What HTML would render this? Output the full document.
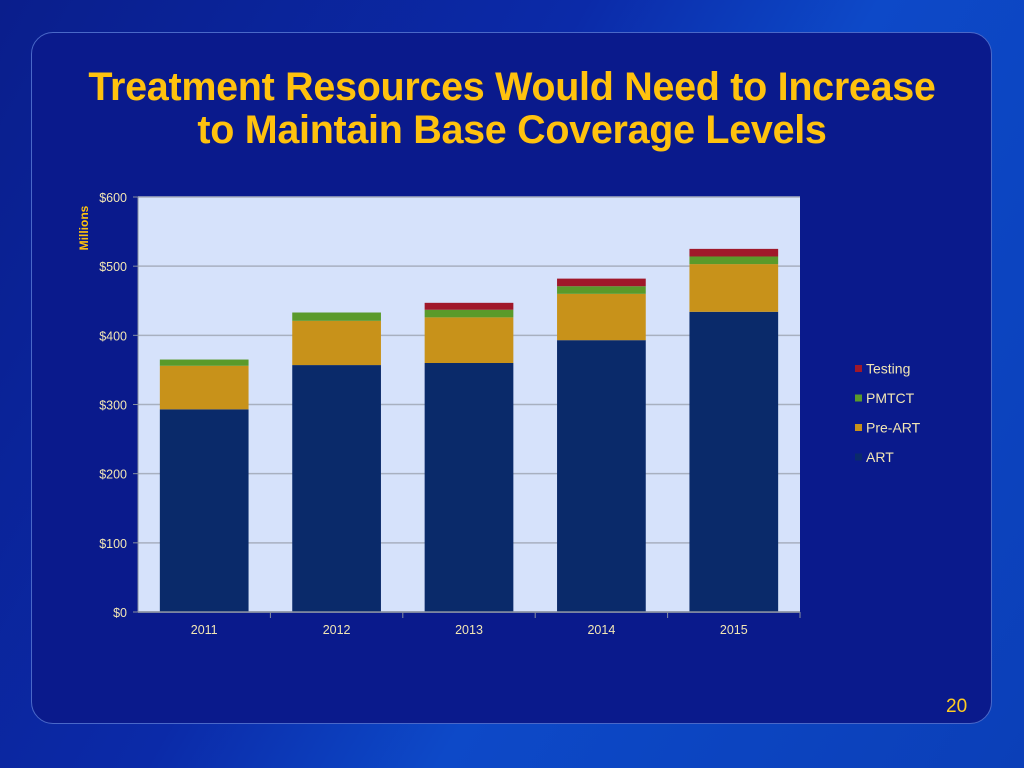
<!DOCTYPE html>
<html><head><meta charset="utf-8"><style>
body{margin:0;width:1024px;height:768px;overflow:hidden;background:linear-gradient(120deg,#0a1e8c 0%,#0b2aa8 40%,#0d49c8 60%,#0b3fb8 100%);font-family:"Liberation Sans",sans-serif;position:relative}
#panel{position:absolute;left:31px;top:32px;width:961px;height:692px;border:1.5px solid #4a68c8;border-radius:22px;background:#0a1a8c;box-sizing:border-box}
#title{position:absolute;left:0;top:66px;width:1024px;text-align:center;color:#ffc20e;font-weight:bold;font-size:39.5px;line-height:43px;letter-spacing:-0.3px}
#pg{position:absolute;left:946px;top:696px;color:#ffcc22;font-size:19px}
svg{position:absolute;left:0;top:0}
</style></head><body>
<div id="panel"></div>
<div id="title">Treatment Resources Would Need to Increase<br>to Maintain Base Coverage Levels</div>
<div id="pg">20</div>
<svg id="chart" width="1024" height="768"></svg>
<script>
const categories=["2011","2012","2013","2014","2015"];
const art=[293,357,360,393,434];
const preArt=[63,64,66,67,69];
const pmtct=[9,12,11,11,11];
const testing=[0,0,10,11,11];
const yTicks=[0,100,200,300,400,500,600];
const yLabels=["$0","$100","$200","$300","$400","$500","$600"];
const seriesNames=["ART","Pre-ART","PMTCT","Testing"];
const colors=["#0a2a6a","#c8921a","#5a9a2a","#a0182a"];
const series=[art,preArt,pmtct,testing];
const svg=document.getElementById('chart');const NS="http://www.w3.org/2000/svg";
const L=138,R=800,T=197,B=612,MAX=600;
const y=v=>B-(v/MAX)*(B-T);
const cw=(R-L)/categories.length;
const x=i=>L+cw*i;
function mk(t,a){const e=document.createElementNS(NS,t);for(const k in a)e.setAttribute(k,a[k]);svg.appendChild(e);return e;}
const bg=mk('rect',{x:L,y:T,width:R-L,height:B-T,fill:'#d6e2fb'});


yTicks.forEach((v,i)=>{
 const g=mk('line',{x1:L,x2:R,y1:y(v),y2:y(v),stroke:'#a8b0c0','stroke-width':1.5});
 
 
 mk('line',{x1:L-5,x2:L,y1:y(v),y2:y(v),stroke:'#8890a0'});
 const t=mk('text',{x:L-11,y:y(v)+5,'text-anchor':'end','font-size':12.5,fill:'#f2e6b4'});t.textContent=yLabels[i];
 
 
});
categories.forEach((c,i)=>{
 let acc=0;const bx=x(i)+cw*0.165,bw=cw*0.67;
 series.forEach((s,j)=>{if(!s[i])return;
  const r=mk('rect',{x:bx,y:y(acc+s[i]),width:bw,height:y(acc)-y(acc+s[i]),fill:colors[j]});
  
  
  acc+=s[i];});
 mk('line',{x1:x(i+1),x2:x(i+1),y1:B,y2:B+6,stroke:'#8890a0'});
 const t=mk('text',{x:x(i)+cw/2,y:B+22,'text-anchor':'middle','font-size':12.5,fill:'#f2e6b4'});t.textContent=c;
 
 
});
mk('line',{x1:L,x2:R,y1:B,y2:B,stroke:'#8890a0','stroke-width':1.5});
mk('line',{x1:L,x2:L,y1:T,y2:B,stroke:'#8890a0'});
const yt=mk('text',{x:0,y:0,transform:'translate(88,228) rotate(-90)','text-anchor':'middle','font-size':12,'font-weight':'bold',fill:'#ffc20e'});yt.textContent='Millions';


[3,2,1,0].forEach((j,k)=>{
 const ly=369+k*29.5;
 mk('rect',{x:855,y:ly-4,width:7,height:7,fill:colors[j]});
 const t=mk('text',{x:866,y:ly+4.5,'font-size':14,fill:'#f2e6b4'});t.textContent=seriesNames[j];
 
 
});
</script>
</body></html>
